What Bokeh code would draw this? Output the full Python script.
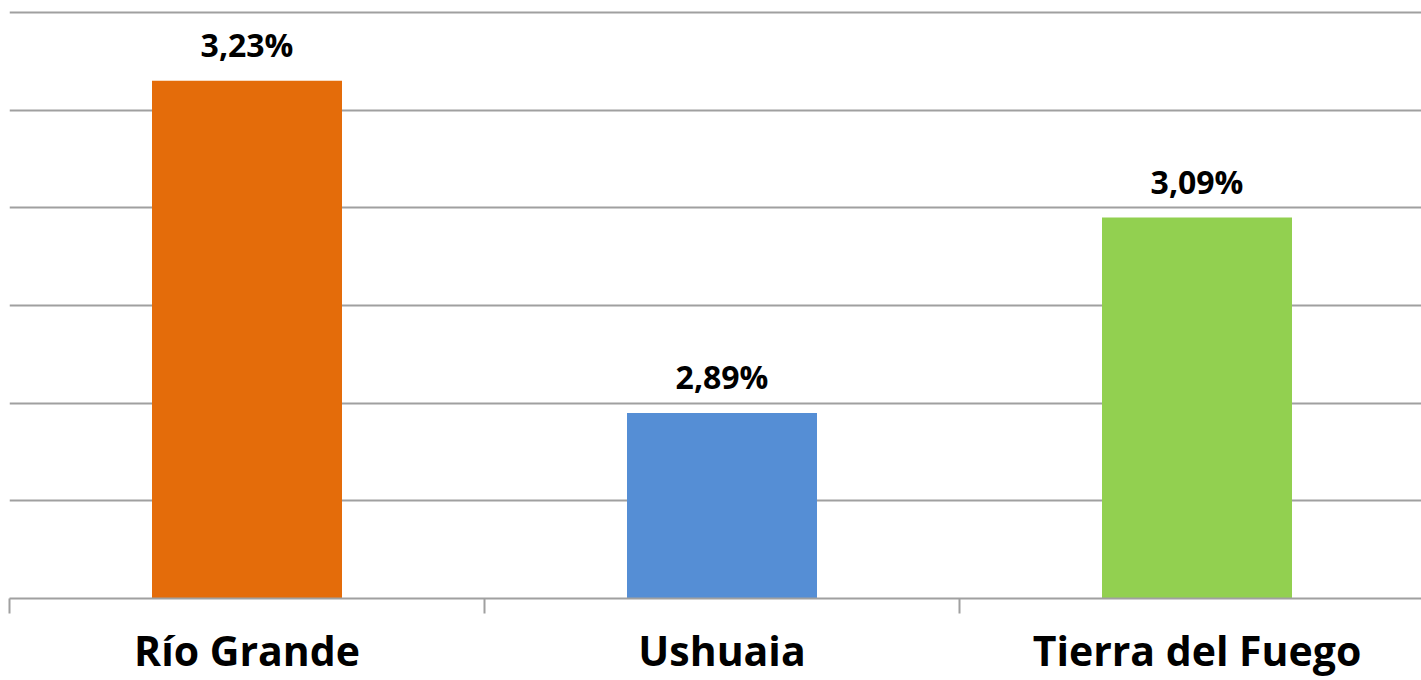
from bokeh.plotting import figure
from bokeh.models import (ColumnDataSource, LabelSet, LinearAxis,
                          Range1d, FixedTicker)
from bokeh.core.properties import value
from bokeh.embed import file_html
from bokeh.resources import INLINE

categories = ["Río Grande", "Ushuaia", "Tierra del Fuego"]
values = [3.23, 2.89, 3.09]
value_labels = ["3,23%", "2,89%", "3,09%"]
colors = ["#E46C0A", "#558ED5", "#92D050"]
y_ticks = [2.7, 2.8, 2.9, 3.0, 3.1, 3.2, 3.3]
y_min, y_max = 2.7, 3.3

n = len(categories)
centers = [i + 0.5 for i in range(n)]
source = ColumnDataSource(dict(x=centers, cat=categories, val=values, lab=value_labels,
                               col=colors))

W, H = 1421, 680
left, top, bottom = 9, 10, 82
cat_px = 475.0  # pixel width of one category band in the reference
p = figure(x_range=Range1d(0, (W - left) / cat_px), y_range=Range1d(y_min, y_max + 0.002),
           width=W, height=H, output_backend="svg", toolbar_location=None,
           x_axis_location=None, y_axis_location=None,
           min_border_left=left, min_border_right=0, min_border_top=top,
           min_border_bottom=bottom)
p.outline_line_color = None
p.background_fill_color = "white"
p.border_fill_color = "white"

p.xgrid.grid_line_color = None
p.ygrid.ticker = FixedTicker(ticks=y_ticks)
p.ygrid.grid_line_color = "#a0a0a0"
p.ygrid.grid_line_width = 2

p.vbar(x="x", top="val", bottom=y_min, width=0.4, color="col", line_color=None, source=source)

labels = LabelSet(x="x", y="val", text="lab", source=source, text_align="center",
                  text_baseline="alphabetic", y_offset=24,
                  text_font=value("Open Sans"), text_font_style="bold",
                  text_font_size="32px", text_color="black")
p.add_layout(labels)

# boundary tick axis
tick_axis = LinearAxis(ticker=FixedTicker(ticks=list(range(n + 1))),
                       major_label_text_font_size="0px", major_label_standoff=0,
                       major_tick_in=0, major_tick_out=15,
                       major_tick_line_color="#a0a0a0", major_tick_line_width=2,
                       minor_tick_line_color=None,
                       axis_line_color="#a0a0a0", axis_line_width=2)
p.add_layout(tick_axis, "below")

# category names below the axis
cat_axis = LinearAxis(ticker=FixedTicker(ticks=centers),
                      major_label_overrides={c: name for c, name in zip(centers, categories)},
                      major_tick_line_color=None, minor_tick_line_color=None,
                      axis_line_color=None, major_label_standoff=2,
                      major_label_text_font="Open Sans",
                      major_label_text_font_style="bold",
                      major_label_text_font_size="41px",
                      major_label_text_color="black")
p.add_layout(cat_axis, "below")

open("out.html", "w").write(file_html(p, INLINE))
